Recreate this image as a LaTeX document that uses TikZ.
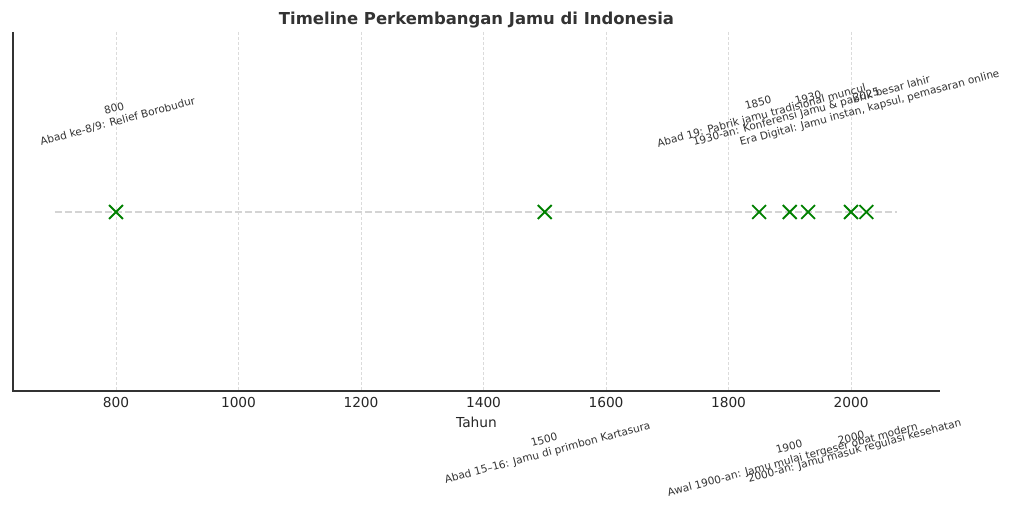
\documentclass[tikz,border=0pt]{standalone}
\usepackage{fontspec}
\setmainfont{DejaVu Sans}
\usetikzlibrary{shapes.misc}
\begin{document}
\begin{tikzpicture}[x=1bp,y=-1bp,
  gridline/.style={draw=black!14, line width=0.8bp, dash pattern=on 3bp off 2bp},
  spine/.style={draw=black!80, line width=1.2bp},
  tline/.style={draw=black!17, line width=1.8bp, dash pattern=on 7bp off 3bp},
  evmark/.style={cross out, draw=green!50!black, line width=1.8bp, minimum size=12bp, inner sep=0pt},
  lab/.style={rotate=15, align=center, inner sep=0pt, text=black!80, font=\fontsize{10.6}{13.3}\selectfont},
  ticklab/.style={inner sep=0pt, text=black!85, font=\fontsize{13.8}{15}\selectfont},
  ttl/.style={inner sep=0pt, text=black!80, font=\fontsize{16.5}{19}\selectfont\bfseries}
]
\useasboundingbox (0,0) rectangle (1024,512);
% grid and tick labels
\foreach \y in {800,1000,...,2000} {
  \draw[gridline] ({116+(\y-800)*0.6125},32) -- ({116+(\y-800)*0.6125},391);
  \node[ticklab] (t\y) at ({116+(\y-800)*0.6125},402) {\y};
}
% spines
\coordinate (ax-tl) at (13,32);
\coordinate (ax-bl) at (13,391);
\coordinate (ax-br) at (940,391);
\draw[spine] (ax-tl) -- (ax-bl) -- (ax-br);
% title and axis label
\node[ttl] (title) at (476.5,20) {Timeline Perkembangan Jamu di Indonesia};
\node[ticklab, anchor=base] (xlab) at (476.5,427) {Tahun};
% timeline
\coordinate (tl-start) at ({116+(700-800)*0.6125},212);
\coordinate (tl-end) at ({116+(2075-800)*0.6125},212);
\draw[tline] (tl-start) -- (tl-end);
% markers
\foreach \y in {800,1500,1850,1900,1930,2000,2025} {
  \node[evmark] (m\y) at ({116+(\y-800)*0.6125},212) {};
}
% labels
\node[lab] (l800) at (116,115) {800\\Abad ke-8/9: Relief Borobudur};
\node[lab] (l1850) at (760,110) {1850\\Abad 19: Pabrik jamu tradisional muncul};
\node[lab] (l1930) at (810,105) {1930\\1930-an: Konferensi Jamu \& pabrik besar lahir};
\node[lab] (l2025) at (868,102) {2025\\Era Digital: Jamu instan, kapsul, pemasaran online};
\node[lab] (l1500) at (546,447) {1500\\Abad 15–16: Jamu di primbon Kartasura};
\node[lab] (l1900) at (791,454) {1900\\Awal 1900-an: Jamu mulai tergeser obat modern};
\node[lab] (l2000) at (853,445) {2000\\2000-an: Jamu masuk regulasi kesehatan};
\end{tikzpicture}
\end{document}
